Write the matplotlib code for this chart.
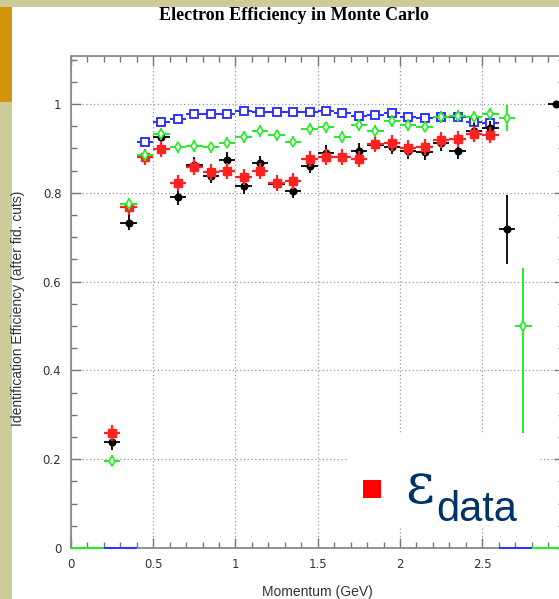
import numpy as np
import matplotlib
matplotlib.use('Agg')
import matplotlib.pyplot as plt
from matplotlib.patches import Rectangle
from matplotlib.ticker import MultipleLocator

# ---------------- data ----------------
x_black = [0.25, 0.35, 0.45, 0.55, 0.65, 0.75, 0.85, 0.95, 1.05, 1.15, 1.25, 1.35,
           1.45, 1.55, 1.65, 1.75, 1.85, 1.95, 2.05, 2.15, 2.25, 2.35, 2.45, 2.55,
           2.65, 2.95]
y_black = [0.238, 0.733, 0.882, 0.925, 0.790, 0.863, 0.838, 0.874, 0.815, 0.866, 0.820, 0.805,
           0.861, 0.890, 0.880, 0.894, 0.908, 0.904, 0.894, 0.891, 0.911, 0.893, 0.939, 0.945,
           0.718, 1.000]
e_black = [0.017, 0.017, 0.017, 0.017, 0.017, 0.017, 0.017, 0.017, 0.017, 0.017, 0.017, 0.017,
           0.017, 0.017, 0.017, 0.017, 0.017, 0.017, 0.017, 0.017, 0.017, 0.017, 0.017, 0.017,
           0.078, 0.000]

x_red = [0.25, 0.35, 0.45, 0.55, 0.65, 0.75, 0.85, 0.95, 1.05, 1.15, 1.25, 1.35,
         1.45, 1.55, 1.65, 1.75, 1.85, 1.95, 2.05, 2.15, 2.25, 2.35, 2.45, 2.55]
y_red = [0.260, 0.769, 0.881, 0.898, 0.823, 0.857, 0.846, 0.849, 0.836, 0.848, 0.821, 0.827,
         0.876, 0.881, 0.881, 0.875, 0.909, 0.913, 0.900, 0.904, 0.919, 0.921, 0.932, 0.929]
e_red = [0.018] * len(x_red)

x_green = [0.25, 0.35, 0.45, 0.55, 0.65, 0.75, 0.85, 0.95, 1.05, 1.15, 1.25, 1.35,
           1.45, 1.55, 1.65, 1.75, 1.85, 1.95, 2.05, 2.15, 2.25, 2.35, 2.45, 2.55,
           2.65, 2.75]
y_green = [0.197, 0.775, 0.884, 0.932, 0.902, 0.905, 0.902, 0.913, 0.925, 0.939, 0.929, 0.915,
           0.943, 0.947, 0.925, 0.953, 0.939, 0.962, 0.953, 0.949, 0.971, 0.974, 0.971, 0.977,
           0.968, 0.500]
e_green_lo = [0.013] * 24 + [0.030, 0.300]
e_green_hi = [0.013] * 24 + [0.030, 0.130]
x_green_zero = [0.05, 0.15, 2.85, 2.95]

x_blue = [0.45, 0.55, 0.65, 0.75, 0.85, 0.95, 1.05, 1.15, 1.25, 1.35, 1.45, 1.55,
          1.65, 1.75, 1.85, 1.95, 2.05, 2.15, 2.25, 2.35, 2.45, 2.55]
y_blue = [0.915, 0.960, 0.966, 0.977, 0.977, 0.977, 0.985, 0.983, 0.982, 0.982, 0.983, 0.985,
          0.979, 0.974, 0.975, 0.979, 0.971, 0.969, 0.970, 0.970, 0.960, 0.956]
x_blue_zero = [0.25, 0.35, 2.65, 2.75]

half_bin = 0.05

title = "Electron Efficiency in Monte Carlo"
xlabel = "Momentum (GeV)"
ylabel = "Identification Efficiency (after fid. cuts)"
xticks = [0, 0.5, 1, 1.5, 2, 2.5, 3]
xtick_labels = ["0", "0.5", "1", "1.5", "2", "2.5", ""]
yticks = [0, 0.2, 0.4, 0.6, 0.8, 1.0]
ytick_labels = ["0", "0.2", "0.4", "0.6", "0.8", "1"]

# ---------------- figure ----------------
W, H = 559, 599
fig = plt.figure(figsize=(W / 100, H / 100), dpi=100)
fig.patch.set_facecolor('white')

def fx(px):
    return px / W

def fy(py):
    return 1 - py / H

# slide decorations
fig.patches.append(Rectangle((0, fy(7)), 1, 7 / H, transform=fig.transFigure,
                             facecolor='#cccc99', edgecolor='none', zorder=0))
fig.patches.append(Rectangle((0, 0), fx(12), 1, transform=fig.transFigure,
                             facecolor='#cccc99', edgecolor='none', zorder=0))
fig.patches.append(Rectangle((0, fy(102)), fx(12), (102 - 7) / H, transform=fig.transFigure,
                             facecolor='#d4940c', edgecolor='none', zorder=1))

ax_left, ax_right, ax_top, ax_bot = 71, 564.5, 56, 548
ax = fig.add_axes([fx(ax_left), fy(ax_bot), (ax_right - ax_left) / W, (ax_bot - ax_top) / H])
ax.set_facecolor('none')
ax.set_xlim(0, 3)
ax.set_ylim(0, 1.108)

ax.set_xticks(xticks)
ax.set_xticklabels(xtick_labels)
ax.set_yticks(yticks)
ax.set_yticklabels(ytick_labels)
ax.xaxis.set_minor_locator(MultipleLocator(0.1))
ax.yaxis.set_minor_locator(MultipleLocator(0.05))
ax.tick_params(which='both', direction='in', top=True, right=True, colors='#777777',
               labelcolor='#333333', labelsize=8.5, width=1)
ax.tick_params(which='major', length=7)
ax.tick_params(which='minor', length=4)
ax.tick_params(axis='x', pad=7)
ax.tick_params(axis='y', pad=7)
for s in ax.spines.values():
    s.set_color('#888888')
    s.set_linewidth(1.3)
ax.grid(True, which='major', linestyle=(0, (1, 2)), color='#999999', linewidth=0.9)
ax.set_axisbelow(True)

# zero bins (horizontal lines at 0)
ax.errorbar(x_green_zero, [0] * len(x_green_zero), xerr=half_bin, fmt='none',
            ecolor='#22ee22', elinewidth=1.5, capsize=0, zorder=3, clip_on=False)
ax.errorbar(x_blue_zero, [0] * len(x_blue_zero), xerr=half_bin, fmt='none',
            ecolor='#3333ff', elinewidth=1.5, capsize=0, zorder=3, clip_on=False)

# blue open squares
ax.errorbar(x_blue, y_blue, xerr=half_bin, fmt='s', color='#3333ff', mfc='white',
            mec='#3333ff', ms=5.5, mew=1.4, elinewidth=1.5, capsize=0, zorder=3)
# black circles
ax.errorbar(x_black, y_black, xerr=half_bin, yerr=e_black, fmt='o', color='black',
            ms=4.8, elinewidth=1.3, capsize=0, zorder=4, clip_on=False)
# red squares
ax.errorbar(x_red, y_red, xerr=half_bin, yerr=e_red, fmt='s', color='#ff2222',
            ms=6.3, elinewidth=1.6, capsize=0, zorder=5)
# green open diamonds
ax.errorbar(x_green, y_green, xerr=half_bin, yerr=[e_green_lo, e_green_hi], fmt='d',
            color='#22ee22', mfc='white', mec='#22ee22', ms=5, mew=1.2,
            elinewidth=1.4, capsize=0, zorder=6)

# white label box over the plot
ax.add_patch(Rectangle((fx(347), fy(527)), (540 - 347) / W, (527 - 433) / H,
                       transform=fig.transFigure, facecolor='white', edgecolor='none',
                       zorder=10, clip_on=False))
ax.add_patch(Rectangle((fx(363), fy(498)), 18 / W, 18 / H, transform=fig.transFigure,
                       facecolor='#ff0000', edgecolor='none', zorder=11, clip_on=False))
fig.text(fx(405), fy(503), "\u03b5", family='DejaVu Serif', fontsize=40,
         color='#003366', ha='left', va='baseline', zorder=12)
fig.text(fx(436), fy(521), "data", family='Liberation Sans', fontsize=30,
         color='#003366', ha='left', va='baseline', zorder=12)

# texts
fig.text(fx(294), fy(16), title, family='Liberation Serif', weight='bold',
         fontsize=13, ha='center', va='center', color='black')
fig.text(fx(317), fy(592), xlabel, family='Liberation Sans', fontsize=10,
         ha='center', va='center', color='#333333')
fig.text(fx(18), fy(308), ylabel, family='Liberation Sans', fontsize=10,
         ha='center', va='center', rotation=90, color='#333333')

fig.savefig('out.png', dpi=100)
